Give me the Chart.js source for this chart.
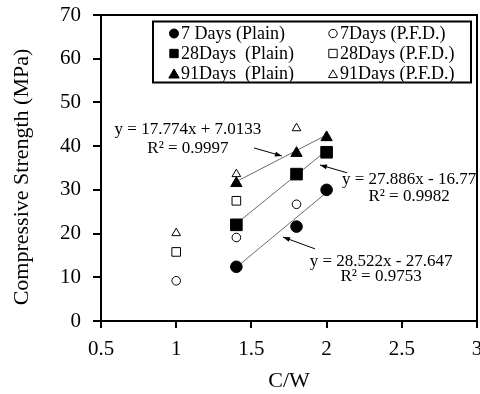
<!DOCTYPE html>
<html>
<head>
<meta charset="utf-8">
<script src="https://cdn.jsdelivr.net/npm/chart.js@4/dist/chart.umd.min.js"></script>
<style>
  html, body { margin: 0; padding: 0; background: #fff; }
  #wrap { width: 480px; height: 394px; }
</style>
</head>
<body>
<div id="wrap"><canvas id="c" width="480" height="394"></canvas></div>
<script>
// ---- data ----
const xPlain = [1.4, 1.8, 2.0];
const xPFD = [1.0, 1.4, 1.8];
const plain7 = [12.4, 21.6, 30.0];
const plain28 = [22.0, 33.6, 38.6];
const plain91 = [31.5, 38.4, 42.0];
const pfd7 = [9.2, 19.1, 26.7];
const pfd28 = [15.8, 27.5, null];
const pfd91 = [20.1, 33.6, 44.1];

const seriesLabels = ['7 Days (Plain)', '28Days  (Plain)', '91Days  (Plain)',
                      '7Days (P.F.D.)', '28Days (P.F.D.)', '91Days (P.F.D.)'];

// Trendline equations shown on the chart (plain series)
const trendSlopes = [28.522, 27.886, 17.774];
const trendIntercepts = [-27.647, -16.77, 7.0133];
const trendEqTexts = ['y = 28.522x - 27.647', 'y = 27.886x - 16.77', 'y = 17.774x + 7.0133'];
const trendR2Texts = ['R\u00B2 = 0.9753', 'R\u00B2 = 0.9982', 'R\u00B2 = 0.9997'];
const trendRange = [1.4, 2.0];

const xTicksMin = 0.5, xTicksMax = 3, xStep = 0.5;
const yTicksMin = 0, yTicksMax = 70, yStep = 10;
const xTitle = 'C/W';
const yTitle = 'Compressive Strength (MPa)';

// ---- presentation ----
const FONT = '"Liberation Serif", "Times New Roman", serif';
const annotationPlacement = [ // [textX, line1Y, line2Y, arrowFromX, arrowFromY, arrowToX, arrowToY] in data units
  [2.362, 13.7, 10.1, 1.923, 16.5, 1.710, 19.2],
  [2.548, 32.3, 28.4, 2.136, 33.9, 1.956, 35.7],
  [1.078, 43.7, 39.35, 1.517, 39.6, 1.703, 37.75]
];

function pts(xs, ys) {
  const out = [];
  xs.forEach((x, i) => { if (ys[i] !== null && ys[i] !== undefined) out.push({x: x, y: ys[i]}); });
  return out;
}

const filled = (label, data, style, r) => ({
  label, data, pointStyle: style, pointRadius: r, pointHoverRadius: r,
  backgroundColor: '#000', borderColor: '#000', borderWidth: 1, showLine: false
});
const open = (label, data, style, r) => ({
  label, data, pointStyle: style, pointRadius: r, pointHoverRadius: r,
  backgroundColor: '#fff', borderColor: '#000', borderWidth: 1, showLine: false
});

const datasets = [
  filled(seriesLabels[0], pts(xPlain, plain7), 'circle', 5.8),
  filled(seriesLabels[1], pts(xPlain, plain28), 'rect', 8.2),
  filled(seriesLabels[2], pts(xPlain, plain91), 'triangle', 6.5),
  open(seriesLabels[3], pts(xPFD, pfd7), 'circle', 4.3),
  open(seriesLabels[4], pts(xPFD, pfd28), 'rect', 6.1),
  open(seriesLabels[5], pts(xPFD, pfd91), 'triangle', 5.0)
];
const legendMarkerR = [4.5, 5.9, 6.0, 4.2, 5.9, 5.2];

trendSlopes.forEach((m, i) => {
  datasets.push({
    label: 'trend' + i,
    data: trendRange.map(x => ({x: x, y: m * x + trendIntercepts[i]})),
    showLine: true, pointRadius: 0, pointHoverRadius: 0,
    borderColor: '#6a6a6a', borderWidth: 1, fill: false, isTrend: true
  });
});

function drawMarker(ctx, style, x, y, r, fillCol) {
  ctx.save();
  ctx.beginPath();
  if (style === 'circle') {
    ctx.arc(x, y, r, 0, Math.PI * 2);
  } else if (style === 'rect') {
    const s = Math.SQRT1_2 * r;
    ctx.rect(x - s, y - s, 2 * s, 2 * s);
  } else {
    const a = 2 * Math.PI / 3;
    ctx.moveTo(x, y - r);
    ctx.lineTo(x + Math.sin(a) * r, y - Math.cos(a) * r);
    ctx.lineTo(x + Math.sin(2 * a) * r, y - Math.cos(2 * a) * r);
    ctx.closePath();
  }
  ctx.fillStyle = fillCol;
  ctx.fill();
  ctx.strokeStyle = '#000';
  ctx.lineWidth = 1;
  ctx.stroke();
  ctx.restore();
}

const decor = {
  id: 'decor',
  afterDatasetsDraw(chart) {
    const ctx = chart.ctx;
    const {left, right, top, bottom} = chart.chartArea;
    const xs = chart.scales.x, ys = chart.scales.y;
    // frame top and right
    ctx.save();
    ctx.strokeStyle = '#000';
    ctx.lineWidth = 2;
    ctx.beginPath();
    ctx.moveTo(left - 1, top);
    ctx.lineTo(right, top);
    ctx.lineTo(right, bottom);
    ctx.stroke();
    ctx.restore();

    // y axis title
    ctx.save();
    ctx.fillStyle = '#000';
    ctx.font = '22px ' + FONT;
    ctx.textAlign = 'center';
    ctx.textBaseline = 'middle';
    ctx.translate(22.5, (top + bottom) / 2 + 9);
    ctx.rotate(-Math.PI / 2);
    ctx.fillText(yTitle, 0, 0);
    ctx.restore();

    // annotations
    ctx.save();
    ctx.fillStyle = '#000';
    ctx.font = '17px ' + FONT;
    ctx.textAlign = 'center';
    ctx.textBaseline = 'middle';
    annotationPlacement.forEach((p, i) => {
      ctx.fillText(trendEqTexts[i], xs.getPixelForValue(p[0]), ys.getPixelForValue(p[1]));
      ctx.fillText(trendR2Texts[i], xs.getPixelForValue(p[0]), ys.getPixelForValue(p[2]));
      const x1 = xs.getPixelForValue(p[3]), y1 = ys.getPixelForValue(p[4]);
      const x2 = xs.getPixelForValue(p[5]), y2 = ys.getPixelForValue(p[6]);
      ctx.strokeStyle = '#000';
      ctx.lineWidth = 1;
      ctx.beginPath();
      ctx.moveTo(x1, y1);
      ctx.lineTo(x2, y2);
      ctx.stroke();
      const ang = Math.atan2(y2 - y1, x2 - x1);
      const L = 7, W = 2.5;
      ctx.beginPath();
      ctx.moveTo(x2, y2);
      ctx.lineTo(x2 - L * Math.cos(ang) + W * Math.sin(ang), y2 - L * Math.sin(ang) - W * Math.cos(ang));
      ctx.lineTo(x2 - L * Math.cos(ang) - W * Math.sin(ang), y2 - L * Math.sin(ang) + W * Math.cos(ang));
      ctx.closePath();
      ctx.fill();
    });
    ctx.restore();

    // legend box
    const bx = left + 52, by = top + 6.5, bw = 318, bh = 61;
    ctx.save();
    ctx.fillStyle = '#fff';
    ctx.fillRect(bx, by, bw, bh);
    ctx.strokeStyle = '#000';
    ctx.lineWidth = 2;
    ctx.strokeRect(bx, by, bw, bh);
    ctx.font = '18px ' + FONT;
    ctx.textBaseline = 'middle';
    ctx.textAlign = 'left';
    ctx.fillStyle = '#000';
    for (let i = 0; i < 6; i++) {
      const ds = chart.data.datasets[i];
      const col = Math.floor(i / 3), row = i % 3;
      const mx = bx + 21 + col * 159;
      const my = by + 12 + row * 20;
      drawMarker(ctx, ds.pointStyle, mx, my + (ds.pointStyle === 'triangle' ? 1.5 : 0), legendMarkerR[i], ds.backgroundColor);
      ctx.fillStyle = '#000';
      ctx.fillText(ds.label, mx + 7, my + 1);
    }
    ctx.restore();
  }
};

new Chart(document.getElementById('c'), {
  type: 'scatter',
  data: { datasets },
  options: {
    responsive: false,
    animation: false,
    devicePixelRatio: 1,
    layout: { autoPadding: false, padding: { left: 0, right: 3, top: 15, bottom: 0 } },
    plugins: { legend: { display: false }, tooltip: { enabled: false } },
    scales: {
      x: {
        type: 'linear', min: xTicksMin, max: xTicksMax,
        ticks: { stepSize: xStep, color: '#000', padding: 9, font: { family: FONT, size: 21 },
                 callback: v => String(Math.round(v * 10) / 10) },
        grid: { drawOnChartArea: false, drawTicks: true, tickLength: 7, color: '#000', lineWidth: 2 },
        border: { display: true, color: '#000', width: 2 },
        title: { display: true, text: xTitle, color: '#000', font: { family: FONT, size: 22 }, padding: { top: 0, bottom: 0 } },
        afterFit(s) { s.height = 73; s.paddingLeft = 0; s.paddingRight = 0; }
      },
      y: {
        type: 'linear', min: yTicksMin, max: yTicksMax,
        ticks: { stepSize: yStep, color: '#000', padding: 12, font: { family: FONT, size: 21 },
                 callback: v => String(v) },
        grid: { drawOnChartArea: false, drawTicks: true, tickLength: 8, color: '#000', lineWidth: 2 },
        border: { display: true, color: '#000', width: 2 },
        title: { display: false },
        afterFit(s) { s.width = 101; s.paddingTop = 0; s.paddingBottom = 0; }
      }
    }
  },
  plugins: [decor]
});
</script>
</body>
</html>
